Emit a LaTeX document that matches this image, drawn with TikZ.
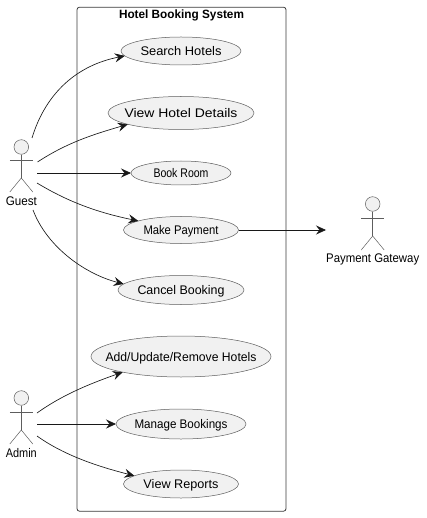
\documentclass[tikz,border=0pt]{standalone}
\usepackage{fontspec}
\usepackage{graphicx}
\setmainfont{Liberation Sans}
\usetikzlibrary{arrows.meta,shapes.geometric}
\definecolor{linec}{HTML}{181818}
\definecolor{fillc}{HTML}{F1F1F1}
\tikzset{
  x=1pt,y=-1pt,
  usecase/.style={draw=linec!70,fill=fillc,ellipse,inner sep=0pt,outer sep=0pt,line width=0.5pt,font=\fontsize{12.5}{15}\selectfont},
  boxline/.style={draw=linec!85,line width=0.8pt,rounded corners=2.5pt},
  actorline/.style={draw=linec!70,line width=0.5pt},
  actorhead/.style={circle,draw=linec!70,fill=fillc,line width=0.5pt,minimum size=14.6pt,inner sep=0pt},
  lbl/.style={inner sep=0pt,font=\fontsize{12.5}{15}\selectfont},
  conn/.style={draw=linec,line width=0.65pt,-{Stealth[length=10pt,width=9pt,inset=3.5pt]}}
}
\newcommand{\fitw}[2]{\resizebox{#1pt}{\height}{#2}}
\newcommand{\uc}[2]{\makebox[0pt]{\raisebox{-0.36em}[0pt][0pt]{\fitw{#1}{#2}}}}
\newcommand{\actorfig}[6]{% name, x, heady, armsy, label width, label
  \node[actorhead] (#1head) at (#2,#3) {};
  \coordinate (#1hip) at (#2,#4+18);
  \coordinate (#1la) at (#2-11.5,#4);
  \coordinate (#1ra) at (#2+11.5,#4);
  \coordinate (#1ll) at (#2-11.5,#4+32);
  \coordinate (#1rl) at (#2+11.5,#4+32);
  \draw[actorline] (#1head) -- (#1hip);
  \draw[actorline] (#1la) -- (#1ra);
  \draw[actorline] (#1ll) -- (#1hip) -- (#1rl);
  \node[lbl] (#1label) at (#2,#4+41) {\fitw{#5}{#6}};
}
\begin{document}
\begin{tikzpicture}
\useasboundingbox (0,0) rectangle (427,518);
\node[boxline,draw,minimum width=209pt,minimum height=504pt,inner sep=0pt,anchor=north west] (sys) at (76.6,6.8) {};
\node[inner sep=0pt,font=\bfseries\fontsize{12}{14}\selectfont] (title) at (181.5,15.5) {\fitw{125}{Hotel Booking System}};
\node[usecase,minimum width=120pt,minimum height=28pt] (search) at (181,51) {\uc{81}{Search Hotels}};
\node[usecase,minimum width=146pt,minimum height=33pt] (details) at (181,113) {\uc{113}{View Hotel Details}};
\node[usecase,minimum width=100pt,minimum height=24pt] (book) at (181,173) {\uc{55}{Book Room}};
\node[usecase,minimum width=115pt,minimum height=27pt] (pay) at (181,230) {\uc{75}{Make Payment}};
\node[usecase,minimum width=126pt,minimum height=29pt] (cancel) at (181,290) {\uc{87}{Cancel Booking}};
\node[usecase,minimum width=180pt,minimum height=41pt] (add) at (181,356.5) {\uc{151}{Add/Update/Remove Hotels}};
\node[usecase,minimum width=130pt,minimum height=30pt] (manage) at (181,424) {\uc{93}{Manage Bookings}};
\node[usecase,minimum width=115pt,minimum height=28pt] (reports) at (181,484) {\uc{75}{View Reports}};
\actorfig{guest}{21.3}{147}{160}{31}{Guest}
\actorfig{admin}{21.3}{398}{412}{31}{Admin}
\actorfig{gate}{372.7}{204}{218}{93}{Payment Gateway}
\coordinate (g1) at (32,138);
\coordinate (g2) at (37.5,162);
\coordinate (g3) at (37,173);
\coordinate (g4) at (37,183);
\coordinate (g5) at (33,210);
\coordinate (a1) at (37,413);
\coordinate (a2) at (37,424);
\coordinate (a3) at (37,436);
\coordinate (gw) at (326,230);
\draw[conn] (g1) .. controls (46,92) and (78,65) .. (search.185);
\draw[conn] (g2) .. controls (68,142) and (95,134) .. (details.192);
\draw[conn] (g3) -- (book);
\draw[conn] (g4) .. controls (70,203) and (100,213) .. (pay.168);
\draw[conn] (g5) .. controls (47,247) and (85,274) .. (cancel.174);
\draw[conn] (a1) .. controls (65,393) and (95,382) .. (add.195);
\draw[conn] (a2) -- (manage);
\draw[conn] (a3) .. controls (65,456) and (100,467) .. (reports.170);
\draw[conn] (pay) -- (gw);
\end{tikzpicture}
\end{document}
